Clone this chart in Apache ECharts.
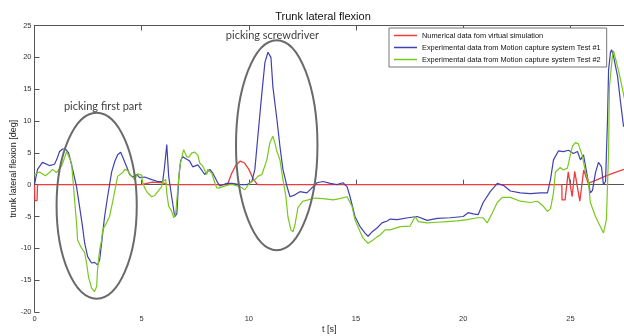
<!DOCTYPE html>
<html>
<head>
<meta charset="utf-8">
<script src="https://cdn.jsdelivr.net/npm/echarts@6/dist/echarts.min.js"></script>
<style>
  html, body { margin: 0; padding: 0; background: #fff; }
  #chart { width: 624px; height: 336px; }
</style>
</head>
<body>
<div id="chart"></div>
<script>
// series names
var seriesNames = [
  'Numerical data fom virtual simulation',
  'Experimental data from Motion capture system Test #1',
  'Experimental data from Motion capture system Test #2'
];

// numerical simulation (red)
var simTime = [0, 0.02, 0.12, 0.14, 5.0, 5.5, 6.0, 6.2, 9.0, 9.2, 9.4, 9.6, 9.8, 10.0, 10.2, 10.4,
  24.6, 24.61, 24.75, 24.9, 25.08, 25.2, 25.44, 25.62, 25.83, 26.2, 26.6, 27.0, 27.5];
var simValue = [0, -2.5, -2.5, 0, 0, 0.4, 0.3, 0, 0, 1.8, 3.1, 3.7, 3.4, 2.4, 0.9, 0,
  0, -2.4, -2.4, 2.0, -1.9, 2.1, -2.6, 2.3, 0.2, 0.7, 1.3, 1.8, 2.4];

// test #1 (blue)
var test1Time = [0, 0.14, 0.37, 0.70, 0.93, 1.03, 1.17, 1.31, 1.45, 1.59, 1.78, 1.96, 2.10, 2.24, 2.34,
  2.48, 2.66, 2.80, 2.94, 3.04, 3.13, 3.27, 3.41, 3.60, 3.74, 3.88, 4.02, 4.11, 4.30, 4.44, 4.58,
  4.77, 4.91, 5.14, 5.47, 5.75, 5.98, 6.07, 6.17, 6.21, 6.26, 6.40, 6.54, 6.64, 6.73, 6.82, 6.92,
  7.10, 7.24, 7.38, 7.62, 7.80, 7.94, 8.18, 8.32, 8.50, 8.64, 8.97, 9.21, 9.58, 9.91, 10.14, 10.28,
  10.42, 10.61, 10.75, 10.89, 11.03, 11.12, 11.31, 11.45, 11.59, 11.78, 11.92, 12.15, 12.38, 12.71,
  12.94, 13.18, 13.46, 13.79, 14.11, 14.39, 14.58, 14.72, 14.95, 15.19, 15.42, 15.56, 15.75, 15.98,
  16.21, 16.45, 16.59, 16.92, 17.43, 17.85, 18.32, 18.79, 19.39, 20.00, 20.23, 20.47, 20.70, 20.93,
  21.26, 21.59, 21.87, 22.20, 22.66, 23.13, 23.60, 23.93, 24.07, 24.21, 24.44, 24.67, 24.91, 25.14,
  25.33, 25.47, 25.61, 25.79, 25.93, 26.03, 26.17, 26.31, 26.45, 26.54, 26.64, 26.73, 26.78, 26.87,
  26.92, 27.01, 27.20, 27.34, 27.48];
var test1Value = [0, 2.4, 3.5, 3.0, 3.2, 3.9, 5.2, 5.6, 5.6, 5.0, 2.4, -0.3, -3.4, -6.6, -9.2,
  -11.3, -12.3, -12.2, -12.6, -11.8, -9.2, -5, -1.9, 2, 3.6, 4.7, 5.1, 4.4, 2.8, 1.6, 1.2,
  1.6, 1.1, 1.2, 0.8, 0.5, 0.5, 2.9, 6.3, 6.0, 1.3, -1.9, -5.0, -4.6, 1.0, 3.8, 4.4,
  4.0, 3.7, 2.8, 3.1, 2.3, 1.6, 2.4, 1.8, 0.6, -0.2, 0.2, 0.2, 0, 0, 0.5, 2.4,
  7.6, 14.5, 19.2, 20.8, 20.0, 15.4, 10.2, 6, 2.4, -0.3, -1.9, -1.6, -1.1, -1.3,
  -0.5, 0.3, 0.5, 0.2, 0, 0.3, -0.3, -1.9, -5, -6.6, -7.6, -8.1, -7.4, -6.8,
  -6.0, -5.7, -5.4, -5.5, -5.2, -5.0, -5.6, -5.3, -5.2, -5.0, -4.4, -4.6, -4.7, -2.8,
  -1.1, 0.2, -0.1, -1.0, -1.3, -1.4, -1.3, -1.3, 0.8, 3.9, 5.3, 5.2, 5.4, 4.9,
  5.2, 3.9, 4.7, 1.3, -1.3, -0.9, 1.9, 3.5, 2.8, 0, 0.5, 10.2, 18, 20.8,
  21.2, 20.2, 17, 12.9, 9.1];

// test #2 (green)
var test2Time = [0, 0.23, 0.51, 0.70, 0.84, 1.03, 1.26, 1.40, 1.50, 1.59, 1.73, 1.78, 1.87, 1.96, 2.01,
  2.15, 2.24, 2.34, 2.43, 2.52, 2.66, 2.80, 2.90, 2.94, 3.04, 3.13, 3.18, 3.36, 3.50, 3.64, 3.79,
  3.88, 4.11, 4.21, 4.35, 4.53, 4.67, 4.81, 5.00, 5.05, 5.14, 5.28, 5.47, 5.61, 5.75, 5.93, 5.98,
  6.12, 6.17, 6.26, 6.40, 6.50, 6.59, 6.68, 6.78, 6.92, 6.96, 7.10, 7.20, 7.34, 7.48, 7.62, 7.71,
  7.85, 8.04, 8.08, 8.27, 8.41, 8.50, 8.64, 8.79, 9.11, 9.25, 9.58, 9.81, 10.05, 10.28, 10.42, 10.61,
  10.84, 10.98, 11.12, 11.21, 11.31, 11.45, 11.59, 11.73, 11.82, 11.96, 12.06, 12.15, 12.29, 12.52,
  12.76, 13.08, 13.46, 13.93, 14.25, 14.58, 14.72, 14.81, 14.95, 15.05, 15.19, 15.33, 15.56, 15.75,
  15.98, 16.12, 16.36, 16.59, 17.06, 17.52, 17.76, 17.90, 18.32, 18.79, 19.25, 19.72, 20.19, 20.65,
  20.93, 21.12, 21.36, 21.59, 21.82, 22.20, 22.66, 23.13, 23.46, 23.74, 23.93, 24.07, 24.21, 24.30,
  24.53, 24.67, 24.86, 25.09, 25.23, 25.37, 25.56, 25.70, 25.84, 25.93, 26.17, 26.40, 26.54, 26.68,
  26.78, 26.82, 26.96, 27.01, 27.15, 27.24, 27.43, 27.52];
var test2Value = [1.6, 2.0, 1.4, 1.9, 2.4, 1.9, 2.9, 4.2, 5.2, 5.1, 3.4, 1.3, -2.4, -6, -8.7,
  -9.7, -10, -10.7, -12.3, -14.5, -16.2, -16.8, -16, -13.4, -10.2, -8.7, -7.1, -6, -5, -2.8, -0.2,
  1.3, 1.9, 2.4, 2.2, 1.3, 0.8, 1.7, 1.5, 0.3, -0.5, -1.3, -1.9, -1.7, -1.1, -0.3, 0.5,
  0.8, -1.3, -3.4, -4.2, -5.2, -4.5, -0.8, 2.9, 5.0, 5.5, 4.4, 4.3, 5.0, 5.1, 4.6, 3.4,
  2.9, 1.6, 2.4, 1.8, 0.3, -0.5, -0.5, -0.3, 0, 0, -0.3, -0.8, 0.3, 0.8, 1.3, 1.6,
  3.9, 6.6, 7.6, 6.6, 5.2, 3.9, 0.8, -1.9, -5, -7.1, -7.4, -6.3, -3.6, -2.6,
  -2.4, -2.1, -2.2, -2.4, -2.2, -1.9, -2.8, -3.4, -5.5, -6.3, -7.4, -8.4, -9.2, -8.8,
  -8.2, -7.9, -7.1, -7.1, -6.6, -6.5, -5.0, -5.8, -6.0, -5.9, -5.8, -5.7, -5.5, -5.2,
  -5.2, -6.0, -4.4, -2.8, -2.0, -2.0, -2.6, -2.8, -2.6, -3.4, -4.2, -3.8, -1.3, 2.0,
  2.7, 2.3, 2.6, 6.0, 6.6, 6.4, 4.5, 2.0, 0.5, -2.8, -5.0, -6.6, -7.6, -5.5,
  5, 15.4, 20.2, 21, 19.2, 18, 15, 13.5];

var xTicks = [0, 5, 10, 15, 20, 25];

// annotation ellipses: centre (t, deg), half sizes in (s, deg)
var notes = [
  { text: 'picking first part', t: 2.9, v: -3.3, rt: 1.87, rv: 14.6, textT: 3.2, textV: 12.3 },
  { text: 'picking screwdriver', t: 11.3, v: 6.2, rt: 1.9, rv: 16.5, textT: 11.1, textV: 23.4 }
];

function zip(t, v) {
  return t.map(function (x, i) { return [x, v[i]]; });
}

var font = '"Liberation Sans", Arial, sans-serif';
var axisColor = '#555';

var dom = document.getElementById('chart');
var chart = echarts.init(dom, null, { renderer: 'canvas' });

var option = {
  animation: false,
  backgroundColor: '#fff',
  title: {
    text: 'Trunk lateral flexion',
    left: 318,
    top: 6,
    textAlign: 'center',
    textStyle: { fontFamily: font, fontSize: 11, fontWeight: 'normal', color: '#111' }
  },
  legend: {
    data: seriesNames,
    orient: 'vertical',
    left: 389,
    top: 28,
    padding: [3, 6, 3, 5],
    itemGap: 3,
    itemWidth: 23,
    itemHeight: 1.5,
    icon: 'rect',
    backgroundColor: '#fff',
    borderColor: '#777',
    borderWidth: 1,
    borderRadius: 0,
    textStyle: { fontFamily: font, fontSize: 7.4, color: '#111', lineHeight: 9 }
  },
  grid: { left: 34.5, right: 0, top: 25.5, bottom: 24, outerBoundsMode: 'none', containLabel: false },
  xAxis: [{
    type: 'value',
    min: 0,
    max: 27.5,
    interval: 5,
    name: 't [s]',
    nameLocation: 'middle',
    nameGap: 13,
    nameMoveOverlap: false,
    nameTextStyle: { fontFamily: font, fontSize: 9, color: '#222' },
    axisLine: { lineStyle: { color: axisColor, width: 1 } },
    axisTick: { inside: true, length: 5, lineStyle: { color: axisColor } },
    splitLine: { show: false },
    axisLabel: {
      fontFamily: font, fontSize: 7.5, color: '#333', margin: 3,
      formatter: function (val) { return xTicks.indexOf(val) >= 0 ? String(val) : ''; }
    }
  }, {
    type: 'value',
    position: 'top',
    min: 0,
    max: 27.5,
    interval: 5,
    axisLine: { lineStyle: { color: axisColor, width: 1 } },
    axisTick: { inside: true, length: 5, lineStyle: { color: axisColor } },
    axisLabel: { show: false },
    splitLine: { show: false }
  }],
  yAxis: {
    type: 'value',
    min: -20,
    max: 25,
    interval: 5,
    name: 'trunk lateral flexion [deg]',
    nameLocation: 'middle',
    nameRotate: 90,
    nameGap: 16,
    nameMoveOverlap: false,
    nameTextStyle: { fontFamily: font, fontSize: 9, color: '#222' },
    axisLine: { show: true, lineStyle: { color: axisColor, width: 1 } },
    axisTick: { show: true, inside: true, length: 5, lineStyle: { color: axisColor } },
    splitLine: { show: false },
    axisLabel: { fontFamily: font, fontSize: 7.5, color: '#333', margin: 3 }
  },
  series: [
    {
      name: seriesNames[0], type: 'line', data: zip(simTime, simValue),
      symbol: 'none', lineStyle: { color: '#ee3b3b', width: 1.3 }, itemStyle: { color: '#ee3b3b' }, z: 3
    },
    {
      name: seriesNames[1], type: 'line', data: zip(test1Time, test1Value),
      symbol: 'none', lineStyle: { color: '#4040b0', width: 1.2 }, itemStyle: { color: '#4040b0' }, z: 4
    },
    {
      name: seriesNames[2], type: 'line', data: zip(test2Time, test2Value),
      symbol: 'none', lineStyle: { color: '#78c81e', width: 1.2 }, itemStyle: { color: '#78c81e' }, z: 5
    }
  ]
};

chart.setOption(option);

// ellipses and labels placed through the axes
var graphics = [];
notes.forEach(function (n) {
  var c = chart.convertToPixel({ gridIndex: 0 }, [n.t, n.v]);
  var e = chart.convertToPixel({ gridIndex: 0 }, [n.t + n.rt, n.v + n.rv]);
  var p = chart.convertToPixel({ gridIndex: 0 }, [n.textT, n.textV]);
  graphics.push({
    type: 'ellipse',
    shape: { cx: c[0], cy: c[1], rx: Math.abs(e[0] - c[0]), ry: Math.abs(c[1] - e[1]) },
    style: { fill: 'none', stroke: '#6a6a6a', lineWidth: 2 },
    z: 10
  });
  graphics.push({
    type: 'text',
    x: p[0], y: p[1],
    style: {
      text: n.text, fill: '#404040', font: '11px Lato, "Open Sans", sans-serif',
      align: 'center', verticalAlign: 'middle'
    },
    z: 10
  });
});
chart.setOption({ graphic: graphics });
</script>
</body>
</html>
